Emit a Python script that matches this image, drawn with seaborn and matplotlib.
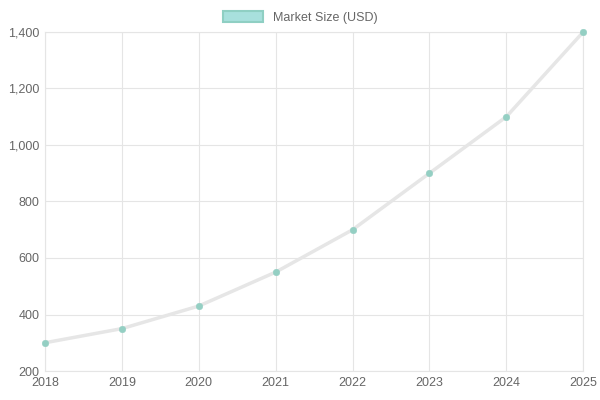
import matplotlib
matplotlib.use("Agg")
import matplotlib.pyplot as plt
import matplotlib.patches as mpatches
import seaborn as sns
import pandas as pd

years = [2018, 2019, 2020, 2021, 2022, 2023, 2024, 2025]
market_size = [300, 350, 430, 550, 700, 900, 1100, 1400]

sns.set_style("white")
plt.rcParams['font.family'] = ['Liberation Sans', 'DejaVu Sans']

df = pd.DataFrame({"year": years, "size": market_size})
fig = plt.figure(figsize=(6, 4), dpi=100)
ax = fig.add_axes([0.075, 0.0725, 0.897, 0.8475])

sns.lineplot(data=df, x="year", y="size", ax=ax, color="#e6e6e6", linewidth=2.5, zorder=2)
sns.scatterplot(data=df, x="year", y="size", ax=ax, color="#94cfc3", s=22, edgecolor="#94cfc3", zorder=3, clip_on=False)

ax.set_xlim(2018, 2025)
ax.set_ylim(200, 1400)
ax.set_xticks(years)
ax.set_yticks(range(200, 1401, 200))
ax.set_yticklabels([f"{v:,}" for v in range(200, 1401, 200)])
ax.grid(True, color="#e5e5e5", linewidth=0.8)
ax.set_xlabel("")
ax.set_ylabel("")
ax.tick_params(colors="#666666", labelsize=9, length=0, pad=4)
for s in ax.spines.values():
    s.set_color("#e5e5e5")

handle = mpatches.Patch(facecolor="#a8e0dd", edgecolor="#8fcfc3", linewidth=1.5, label="Market Size (USD)")
fig.legend(handles=[handle], loc="upper center", bbox_to_anchor=(0.5, 1.0), frameon=False,
           fontsize=9, labelcolor="#666666", handlelength=3.2, handleheight=0.9)
fig.savefig("out.png", dpi=100)
